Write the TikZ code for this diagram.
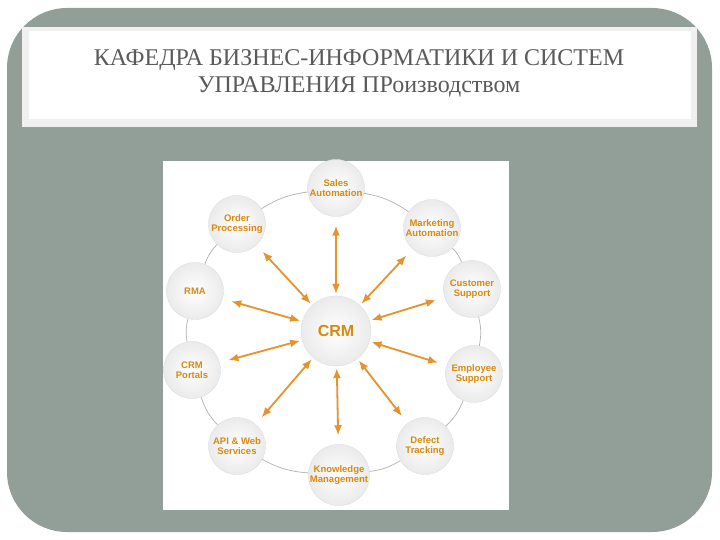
\documentclass[tikz,border=0pt]{standalone}
\usepackage{fontspec}
\setmainfont{Liberation Serif}
\newfontfamily\labelfont{Liberation Sans}
\usetikzlibrary{arrows.meta}

\definecolor{slate}{HTML}{929F99}
\definecolor{crmorange}{HTML}{E8922A}
\definecolor{crmtext}{HTML}{D8890F}
\definecolor{titlegray}{HTML}{5A5A5A}

\tikzset{
  module/.style={circle, minimum size=57pt, inner sep=0pt, draw=gray!25,
    inner color=white, outer color=gray!16, align=center, text=crmtext,
    font=\labelfont\bfseries\fontsize{9.5}{10.5}\selectfont},
  hub/.style={module, minimum size=70pt,
    font=\labelfont\bfseries\fontsize{16}{18}\selectfont},
  link/.style={{Latex[length=10pt,width=8pt]}-{Latex[length=10pt,width=8pt]},
    draw=crmorange, line width=1.8pt, shorten <=2pt, shorten >=9pt},
  ring/.style={draw=gray!60, line width=0.7pt},
}

\begin{document}
\begin{tikzpicture}[x=1pt, y=-1pt]
    \useasboundingbox (0,0) rectangle (720,540);
    % slide background
    \fill[slate, rounded corners=60pt] (7,8) rectangle (712,532);
    \fill[gray!12] (22,27) rectangle (697,127);
    \fill[white] (29,31) rectangle (691,119);
    \node[text=titlegray, align=center, font=\fontsize{24}{27}\selectfont] (title) at (359,73)
        {КАФЕДРА БИЗНЕС-ИНФОРМАТИКИ И СИСТЕМ\\УПРАВЛЕНИЯ ПРоизводством};
    % diagram panel
    \fill[white] (163,161) rectangle (509,510);

    \node[hub] (crm) at (336,331) {CRM};
    \node[module] (sales) at (336,188) {Sales\\Automation};
    \node[module] (order) at (237,224) {Order\\Processing};
    \node[module] (rma) at (195,291) {RMA};
    \node[module] (portals) at (192,370) {CRM\\Portals};
    \node[module] (api) at (237,446) {API \& Web\\Services};
    \node[module] (knowledge) at (339,475) {Knowledge\\Management};
    \node[module] (defect) at (425,446) {Defect\\Tracking};
    \node[module] (employee) at (474,374) {Employee\\Support};
    \node[module] (customer) at (472,289) {Customer\\Support};
    \node[module] (marketing) at (432,228) {Marketing\\Automation};

    % outer ring
    \draw[ring] (sales) to[bend right=12] (order);
    \draw[ring] (order) to[bend right=12] (rma);
    \draw[ring] (rma) to[bend right=12] (portals);
    \draw[ring] (portals) to[bend right=12] (api);
    \draw[ring] (api) to[bend right=12] (knowledge);
    \draw[ring] (knowledge) to[bend right=12] (defect);
    \draw[ring] (defect) to[bend right=12] (employee);
    \draw[ring] (employee) to[bend right=12] (customer);
    \draw[ring] (customer) to[bend right=12] (marketing);
    \draw[ring] (marketing) to[bend right=12] (sales);

    % spokes
    \foreach \m in {sales,order,rma,portals,api,knowledge,defect,employee,customer,marketing}
        \draw[link] (crm) -- (\m);
\end{tikzpicture}
\end{document}
